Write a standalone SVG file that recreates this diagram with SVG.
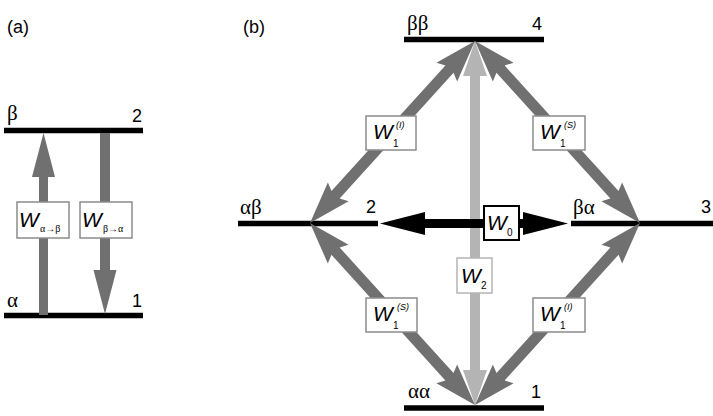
<svg xmlns="http://www.w3.org/2000/svg" width="713" height="416" viewBox="0 0 713 416">
  <style>
    .lvl { stroke: #000; stroke-width: 5.5; fill: none; }
    .arr { fill: #707070; }
    .arr2 { fill: #b4b4b4; }
    .arr0 { fill: #000; }
    .box { fill: #fff; stroke: #8c8c8c; stroke-width: 1.5; }
    .box2 { fill: #fff; stroke: #b4b4b4; stroke-width: 1.5; }
    .box0 { fill: #fff; stroke: #000; stroke-width: 2; }
    .lab { font-family: "Liberation Sans", Arial, sans-serif; font-size: 18px; fill: #000; }
    .gk { font-family: "Liberation Serif", "Times New Roman", serif; font-size: 21px; fill: #000; }
    .w { font-family: "Liberation Sans", Arial, sans-serif; font-style: italic; font-size: 21px; fill: #000; }
    .sub { font-family: "Liberation Sans", Arial, sans-serif; font-size: 10px; fill: #000; }
    .supi { font-family: "Liberation Sans", Arial, sans-serif; font-style: italic; font-size: 9px; fill: #000; }
    .subg { font-family: "Liberation Serif", "Times New Roman", serif; font-size: 10px; fill: #000; }
  </style>
  <defs>
    <!-- double-headed arrow along +x, length 245.6 -->
    <polygon id="diag" points="0,0 42,-14 38,-5.5 207.6,-5.5 203.6,-14 245.6,0 203.6,14 207.6,5.5 38,5.5 42,14"/>
  </defs>

  <!-- panel (a) -->
  <g id="panel-a">
    <text class="lab" x="7" y="33">(a)</text>
    <g id="level-a2">
      <line class="lvl" x1="4" y1="130.5" x2="143" y2="130.5"/>
      <text class="gk" x="7" y="120">β</text>
      <text class="lab" x="142" y="122" text-anchor="end">2</text>
    </g>
    <g id="level-a1">
      <line class="lvl" x1="4" y1="315.5" x2="143" y2="315.5"/>
      <text class="gk" x="7" y="307">α</text>
      <text class="lab" x="142" y="307" text-anchor="end">1</text>
    </g>
    <g id="connectors-a">
      <polygon class="arr" points="43.5,133 55,177 48,177 48,315 39,315 39,177 32,177"/>
      <polygon class="arr" points="100,133 110,133 110,270 116.5,270 105,314 93.5,270 100,270"/>
    </g>
    <g id="rate-ab">
      <rect class="box" x="17" y="202" width="52" height="36"/>
      <text class="w" x="19" y="227">W</text>
      <text class="subg" x="40" y="232">α→β</text>
    </g>
    <g id="rate-ba">
      <rect class="box" x="80" y="202" width="52" height="36"/>
      <text class="w" x="82" y="227">W</text>
      <text class="subg" x="103" y="232">β→α</text>
    </g>
  </g>

  <!-- panel (b) -->
  <text class="lab" x="243" y="33">(b)</text>

  <g id="level-bb">
    <line class="lvl" x1="404" y1="39.5" x2="544" y2="39.5"/>
    <text class="gk" x="407" y="30">ββ</text>
    <text class="lab" x="542" y="30" text-anchor="end">4</text>
  </g>
  <g id="level-ab">
    <line class="lvl" x1="238" y1="223.5" x2="378" y2="223.5"/>
    <text class="gk" x="240" y="214">αβ</text>
    <text class="lab" x="376" y="213" text-anchor="end">2</text>
  </g>
  <g id="level-ba">
    <line class="lvl" x1="571" y1="223.5" x2="713" y2="223.5"/>
    <text class="gk" x="573" y="214">βα</text>
    <text class="lab" x="711" y="213" text-anchor="end">3</text>
  </g>
  <g id="level-aa">
    <line class="lvl" x1="404" y1="408" x2="544" y2="408"/>
    <text class="gk" x="408" y="398">αα</text>
    <text class="lab" x="541" y="398" text-anchor="end">1</text>
  </g>

  <g id="connectors-b">
    <!-- W2: double quantum -->
    <polygon class="arr2" points="475,41 487,76 480,76 480,370 487,370 475,405 463,370 470,370 470,76 463,76"/>
    <!-- W1 single quantum -->
    <use href="#diag" class="arr" transform="translate(475,41) rotate(132.2)"/>
    <use href="#diag" class="arr" transform="translate(475,41) rotate(47.8)"/>
    <use href="#diag" class="arr" transform="translate(310,223) rotate(47.8)"/>
    <use href="#diag" class="arr" transform="translate(640,223) rotate(132.2)"/>
    <!-- W0: zero quantum -->
    <polygon class="arr0" points="380,223.5 425,212 425,219 523,219 523,212 568,223.5 523,235 523,228 425,228 425,235"/>
  </g>

  <g id="rate-w1-i-top">
    <rect class="box" x="366" y="116" width="50" height="34"/>
    <text class="w" x="373" y="139">W</text>
    <text class="sub" x="393" y="147">1</text>
    <text class="supi" x="396" y="128">(I)</text>
  </g>
  <g id="rate-w1-s-top">
    <rect class="box" x="533" y="116" width="52" height="34"/>
    <text class="w" x="540" y="139">W</text>
    <text class="sub" x="560" y="147">1</text>
    <text class="supi" x="564" y="128">(S)</text>
  </g>
  <g id="rate-w1-s-bottom">
    <rect class="box" x="366" y="298" width="51" height="34"/>
    <text class="w" x="373" y="321">W</text>
    <text class="sub" x="393" y="329">1</text>
    <text class="supi" x="397" y="310">(S)</text>
  </g>
  <g id="rate-w1-i-bottom">
    <rect class="box" x="533" y="298" width="52" height="34"/>
    <text class="w" x="540" y="321">W</text>
    <text class="sub" x="560" y="329">1</text>
    <text class="supi" x="564" y="310">(I)</text>
  </g>
  <g id="rate-w2">
    <rect class="box2" x="457" y="258" width="35" height="35"/>
    <text class="w" x="461" y="283">W</text>
    <text class="sub" x="481" y="289">2</text>
  </g>
  <g id="rate-w0">
    <rect class="box0" x="484" y="206" width="35" height="34"/>
    <text class="w" x="487" y="230">W</text>
    <text class="sub" x="507" y="236">0</text>
  </g>
</svg>
